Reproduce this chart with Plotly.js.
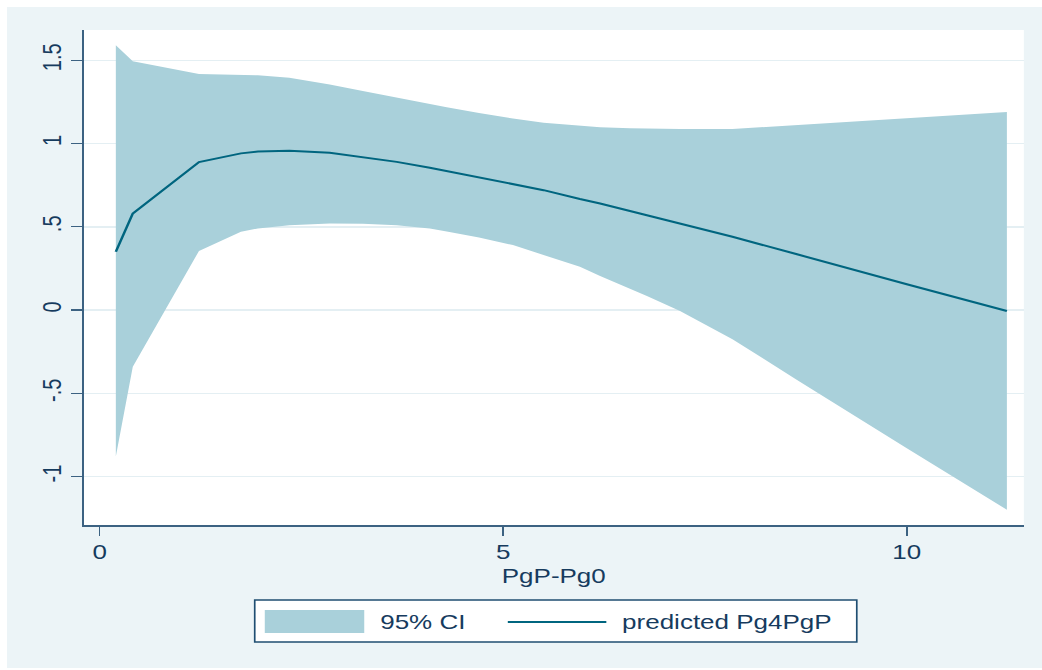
<!DOCTYPE html>
<html>
<head>
<meta charset="utf-8">
<script src="https://cdn.plot.ly/plotly-3.0.1.min.js"></script>
<style>
  html, body { margin: 0; padding: 0; background: #ffffff; }
  #chart { position: absolute; left: 7px; top: 7px; width: 796px; height: 661px;
           transform: scaleX(1.3003); transform-origin: 0 0; }
</style>
</head>
<body>
<div id="chart"></div>
<script>
// Data
var xValues   = [0.2, 0.41, 1.23, 1.75, 1.96, 2.35, 2.85, 3.26, 3.68, 4.09, 4.3, 4.7, 5.12, 5.5, 5.95, 6.2, 6.57, 6.78, 7.19, 7.84, 8.64, 9.5, 10.0, 11.24];
var predicted = [0.35, 0.58, 0.889, 0.941, 0.952, 0.957, 0.945, 0.92, 0.89, 0.855, 0.835, 0.80, 0.76, 0.72, 0.667, 0.64, 0.595, 0.57, 0.52, 0.44, 0.335, 0.22, 0.155, -0.006];
var upperCI   = [1.59, 1.495, 1.417, 1.415, 1.41, 1.395, 1.355, 1.315, 1.275, 1.237, 1.218, 1.183, 1.15, 1.125, 1.105, 1.098, 1.092, 1.089, 1.087, 1.087, 1.111, 1.137, 1.152, 1.189];
var lowerCI   = [-0.88, -0.34, 0.355, 0.47, 0.49, 0.51, 0.52, 0.518, 0.51, 0.49, 0.472, 0.435, 0.39, 0.33, 0.26, 0.205, 0.13, 0.085, -0.005, -0.175, -0.42, -0.68, -0.83, -1.2];
var xTicks = [0, 5, 10];
var xTickLabels = ['0', '5', '10'];
var yTicks = [-1, -0.5, 0, 0.5, 1, 1.5];
var yTickLabels = ['-1', '-.5', '0', '.5', '1', '1.5'];
var legendLabels = ['95% CI', 'predicted Pg4PgP'];

var fillColor = '#a9d0da';
var lineColor = '#00657f';
var axisColor = '#3c6282';
var textColor = '#163b5e';
var font = 'Liberation Sans, Arial, sans-serif';

var traces = [
  { x: xValues, y: lowerCI, type: 'scatter', mode: 'lines', line: { width: 0, color: fillColor },
    showlegend: false, hoverinfo: 'skip' },
  { x: xValues, y: upperCI, type: 'scatter', mode: 'lines', line: { width: 0, color: fillColor },
    fill: 'tonexty', fillcolor: fillColor, name: legendLabels[0], showlegend: false },
  { x: xValues, y: predicted, type: 'scatter', mode: 'lines', line: { width: 2, color: lineColor },
    name: legendLabels[1], showlegend: false }
];

var layout = {
  width: 796, height: 661,
  margin: { l: 59, r: 14, t: 23, b: 143 },
  paper_bgcolor: '#ecf4f7',
  plot_bgcolor: '#ffffff',
  font: { family: font, size: 20, color: textColor },
  showlegend: false,
  xaxis: {
    range: [-0.198, 11.45],
    tickvals: xTicks, ticktext: xTickLabels,
    showgrid: false, zeroline: false,
    showline: true, linecolor: axisColor, linewidth: 1.5,
    ticks: 'outside', ticklen: 9, tickwidth: 1.2, tickcolor: axisColor,
    tickfont: { family: font, size: 20, color: textColor },
    title: { text: 'PgP-Pg0', font: { family: font, size: 20, color: textColor }, standoff: 6 },
    automargin: true
  },
  yaxis: {
    range: [-1.291, 1.682],
    tickvals: yTicks, ticktext: yTickLabels,
    tickangle: -90,
    showgrid: true, gridcolor: '#e4eff3', gridwidth: 1.5,
    zeroline: false,
    showline: true, linecolor: axisColor, linewidth: 1.5,
    ticks: 'outside', ticklen: 8, tickwidth: 1.2, tickcolor: axisColor,
    tickfont: { family: font, size: 20, color: textColor }
  },
  shapes: [
    { type: 'rect', xref: 'paper', yref: 'paper', x0: 0.1819, x1: 0.8223, y0: -0.2364, y1: -0.1515,
      fillcolor: '#ffffff', line: { color: '#1f4e72', width: 1.3 } },
    { type: 'rect', xref: 'paper', yref: 'paper', x0: 0.1926, x1: 0.2984, y0: -0.2182, y1: -0.1717,
      fillcolor: fillColor, line: { width: 0 } },
    { type: 'line', xref: 'paper', yref: 'paper', x0: 0.4511, x1: 0.5559, y0: -0.196, y1: -0.196,
      line: { color: lineColor, width: 2 } }
  ],
  annotations: [
    { xref: 'paper', yref: 'paper', x: 0.3124, y: -0.196, xanchor: 'left', yanchor: 'middle',
      text: legendLabels[0], showarrow: false, font: { family: font, size: 20, color: textColor } },
    { xref: 'paper', yref: 'paper', x: 0.5700, y: -0.196, xanchor: 'left', yanchor: 'middle',
      text: legendLabels[1], showarrow: false, font: { family: font, size: 20, color: textColor } }
  ]
};

Plotly.newPlot('chart', traces, layout, { displayModeBar: false, staticPlot: true });
</script>
</body>
</html>
